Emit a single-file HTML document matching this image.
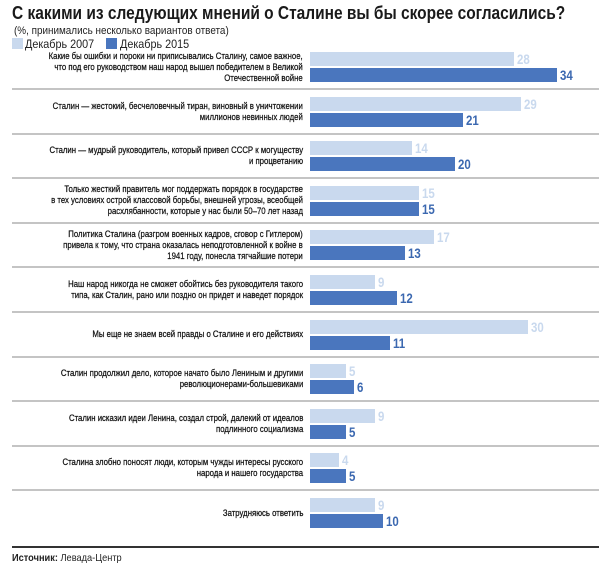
<!DOCTYPE html>
<html><head><meta charset="utf-8"><style>
*{margin:0;padding:0}
body{width:610px;height:565px;background:#fff;position:relative;overflow:hidden;font-family:"Liberation Sans","Noto Sans CJK SC",sans-serif;color:#222}
.a{position:absolute}
.t{left:12px;top:3px;font-size:18px;font-weight:bold;white-space:nowrap;transform:scaleX(0.86);transform-origin:left top;color:#1a1a1a}
.s{left:14px;top:25px;font-size:11px;white-space:nowrap;transform:scaleX(0.9);transform-origin:left top}
.lg{top:37px;font-size:12px;white-space:nowrap;transform:scaleX(0.9);transform-origin:left top}
.lab{right:307px;font-size:9.6px;line-height:11px;text-align:right;white-space:nowrap;transform:scaleX(0.81);transform-origin:right top;color:#111;-webkit-text-stroke:0.25px #111}
.b{height:14px;left:310px}
.l{background:#c9d9ee}.d{background:#4a76be}
.n{font-size:14px;font-weight:bold;line-height:14px;transform:scaleX(0.82);transform-origin:left top}
.nl{color:#c9d9ee}.nd{color:#3b68b0}
.sep{left:12px;width:587px;height:2px;background:#c4c4c4}
</style></head><body>
<div class="a t">С какими из следующих мнений о Сталине вы бы скорее согласились?</div>
<div class="a s">(%, принимались несколько вариантов ответа)</div>
<div class="a" style="left:12px;top:38px;width:11px;height:11px;background:#c9d9ee"></div>
<div class="a lg" style="left:25px">Декабрь 2007</div>
<div class="a" style="left:106px;top:38px;width:11px;height:11px;background:#4a76be"></div>
<div class="a lg" style="left:120px">Декабрь 2015</div>
<div id="c"></div>
<div class="a" style="left:12px;top:546px;width:587px;height:2px;background:#333"></div>
<div class="a" style="left:12px;top:552px;font-size:10.5px;white-space:nowrap;transform:scaleX(0.88);transform-origin:left top"><b>Источник:</b> Левада-Центр</div>
<script>
var R=[
[["Какие бы ошибки и пороки ни приписывались Сталину, самое важное,","что под его руководством наш народ вышел победителем в Великой","Отечественной войне"],28,34],
[["Сталин — жестокий, бесчеловечный тиран, виновный в уничтожении","миллионов невинных людей"],29,21],
[["Сталин — мудрый руководитель, который привел СССР к могуществу","и процветанию"],14,20],
[["Только жесткий правитель мог поддержать порядок в государстве","в тех условиях острой классовой борьбы, внешней угрозы, всеобщей","расхлябанности, которые у нас были 50–70 лет назад"],15,15],
[["Политика Сталина (разгром военных кадров, сговор с Гитлером)","привела к тому, что страна оказалась неподготовленной к войне в","1941 году, понесла тягчайшие потери"],17,13],
[["Наш народ никогда не сможет обойтись без руководителя такого","типа, как Сталин, рано или поздно он придет и наведет порядок"],9,12],
[["Мы еще не знаем всей правды о Сталине и его действиях"],30,11],
[["Сталин продолжил дело, которое начато было Лениным и другими","революционерами-большевиками"],5,6],
[["Сталин исказил идеи Ленина, создал строй, далекий от идеалов","подлинного социализма"],9,5],
[["Сталина злобно поносят люди, которым чужды интересы русского","народа и нашего государства"],4,5],
[["Затрудняюсь ответить"],9,10]];
var h="",k=7.27;
R.forEach(function(r,i){
 var y=52+44.6*i, cy=y+15, n=r[0].length;
 h+='<div class="a lab" style="top:'+(cy-n*5.5)+'px">'+r[0].join("<br>")+'</div>';
 var w1=r[1]*k,w2=r[2]*k;
 h+='<div class="a b l" style="top:'+y+'px;width:'+w1+'px"></div>';
 h+='<div class="a b d" style="top:'+(y+16)+'px;width:'+w2+'px"></div>';
 h+='<div class="a n nl" style="top:'+y+'px;left:'+(313+w1)+'px">'+r[1]+'</div>';
 h+='<div class="a n nd" style="top:'+(y+16)+'px;left:'+(313+w2)+'px">'+r[2]+'</div>';
 if(i<10)h+='<div class="a sep" style="top:'+(y+36)+'px"></div>';
});
document.getElementById("c").innerHTML=h;
</script>
</body></html>
